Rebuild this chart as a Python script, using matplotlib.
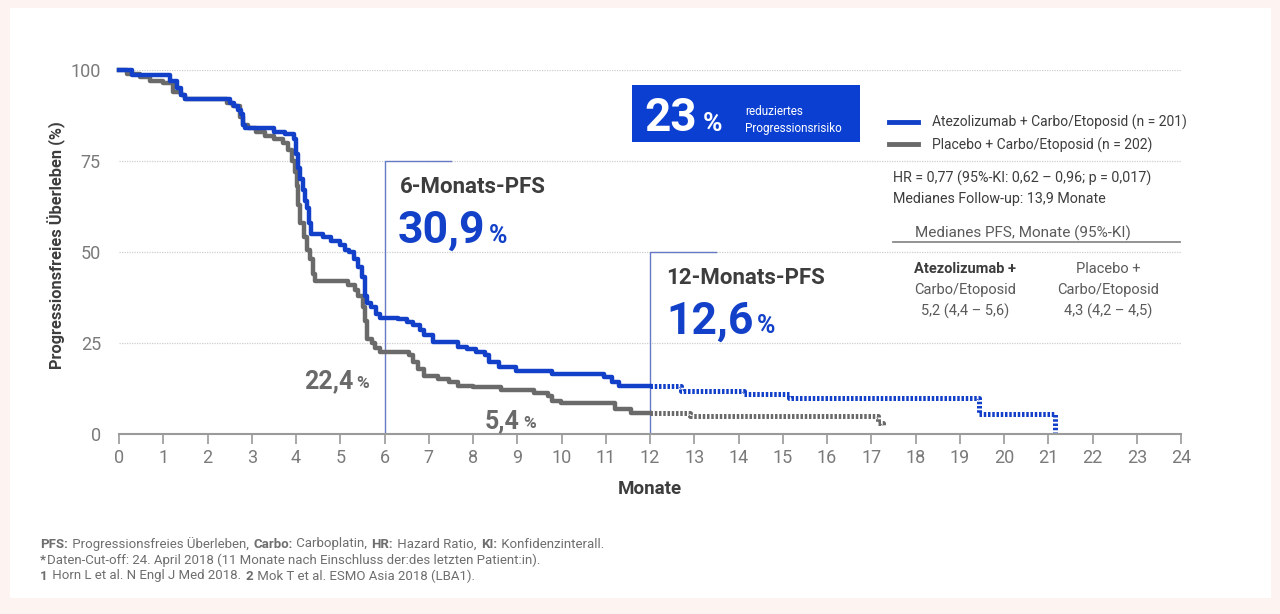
import matplotlib
matplotlib.use("Agg")
import matplotlib.pyplot as plt
from matplotlib.patches import Rectangle
from matplotlib.lines import Line2D

plt.rcParams['font.family'] = ['Roboto', 'DejaVu Sans']

# Kaplan-Meier steps (months, PFS %)
atezo_t = [0, 0.3, 1.15, 1.3, 1.4, 1.5, 2.5, 2.6, 2.7, 2.75, 2.8, 2.85, 3.5, 3.75,
           3.95, 4.0, 4.05, 4.1, 4.15, 4.2, 4.25, 4.3, 4.35, 4.6, 4.8, 5.0, 5.1,
           5.2, 5.3, 5.4, 5.5, 5.55, 5.6, 5.7, 5.8, 5.9, 6.3, 6.5, 6.65, 6.8, 6.9,
           7.1, 7.67, 7.87, 8.07, 8.27, 8.37, 8.58, 8.98, 9.79, 10.95, 11.15,
           11.3, 12.0]
atezo_v = [100, 98.5, 97, 95, 93, 92, 91, 90, 89, 88, 85, 84, 83, 82.5,
           81, 77, 73, 70, 67, 64, 62, 58, 55, 54, 53, 52, 50.5,
           50, 48, 46, 43, 38, 36, 35, 33, 32, 31.5, 30.8, 29.9, 28.5, 27.1,
           25.3, 24, 23.4, 22.5, 21.6, 19.7, 18.5, 17.4, 16.5, 15.6, 14.4,
           13.2, 13.2]
atezo_tail_t = [12.0, 12.7, 14.13, 15.14, 19.43, 21.15]
atezo_tail_v = [13.2, 11.9, 10.9, 10.0, 5.6, 0.5]

plac_t = [0, 0.17, 0.47, 0.7, 1.0, 1.23, 1.4, 1.5, 2.43, 2.58, 2.73, 2.8, 2.92,
          3.1, 3.3, 3.5, 3.7, 3.83, 3.9, 3.98, 4.02, 4.05, 4.09, 4.17, 4.24,
          4.32, 4.39, 4.43, 5.18, 5.33, 5.41, 5.52, 5.56, 5.6, 5.71, 5.79, 5.9,
          6.55, 6.65, 6.76, 6.9, 7.2, 7.46, 7.67, 8.0, 8.63, 9.38, 9.69, 9.79,
          9.99, 11.2, 11.56, 12.0]
plac_v = [100, 99, 98, 97, 96.5, 94, 93, 92, 91, 90, 87, 85, 84,
          83, 82, 81, 80, 78, 75, 72, 68, 63, 58, 54, 50.5,
          48, 44, 42, 41, 39.5, 38, 35, 31, 26, 25, 23.5, 22.5,
          21.6, 19.7, 17.9, 16, 15.1, 14.2, 13.2, 12.8, 12.1, 11.4, 10.5, 9.1,
          8.4, 6.8, 5.8, 5.8]
plac_tail_t = [12.0, 12.9, 17.16, 17.27]
plac_tail_v = [5.8, 4.9, 3.1, 2.1]

landmarks = [6, 12]
landmark_titles = ["6-Monats-PFS", "12-Monats-PFS"]
atezo_landmark = ["30,9", "12,6"]
plac_landmark = ["22,4", "5,4"]

legend_labels = ["Atezolizumab + Carbo/Etoposid (n = 201)",
                 "Placebo + Carbo/Etoposid (n = 202)"]
x_ticks = list(range(0, 25))
y_ticks = [0, 25, 50, 75, 100]

BLUE = "#1240c8"
GRAY = "#6a6a6a"
DARK = "#3d3d3d"
TXT = "#5a5a5a"
LMK = "#6679c4"

fig = plt.figure(figsize=(12.8, 6.14), dpi=100, facecolor="#fdf3f1")
fig.patches.append(Rectangle((10 / 1280, 1 - 598 / 614), 1261 / 1280, 590 / 614,
                             transform=fig.transFigure, facecolor="white",
                             edgecolor="none", zorder=-10))

W, H = 1280, 614
def fx(px):
    return px / W
def fy(py):
    return 1 - py / H

ax = fig.add_axes([fx(119), fy(434), (1181 - 119) / W, (434 - 70) / H])
ax.set_facecolor("none")
ax.set_xlim(0, 24)
ax.set_ylim(0, 100)

# gridlines
for yv in y_ticks[1:]:
    ax.axhline(yv, color="#cfcfcf", lw=0.9, ls=(0, (1, 1)), zorder=0)

# landmark brackets
ax.plot([landmarks[0]] * 2 + [7.5], [0, 75, 75], color=LMK, lw=1.0, zorder=1)
ax.plot([landmarks[1]] * 2 + [13.5], [0, 50, 50], color=LMK, lw=1.0, zorder=1)

# curves
ax.step(plac_t, plac_v, where="post", color=GRAY, lw=3.2, clip_on=False, zorder=3)
ax.step(atezo_t, atezo_v, where="post", color=BLUE, lw=3.2, clip_on=False, zorder=4)
ax.step(plac_tail_t, plac_tail_v, where="post", color=GRAY, lw=3.6,
        ls=(0, (0.5, 0.35)), clip_on=False, zorder=3)
ax.step(atezo_tail_t, atezo_tail_v, where="post", color=BLUE, lw=3.6,
        ls=(0, (0.5, 0.35)), clip_on=False, zorder=4)

# axes styling
for s in ["top", "right", "left"]:
    ax.spines[s].set_visible(False)
ax.spines["bottom"].set_color("#9a9a9a")
ax.spines["bottom"].set_linewidth(1.5)
ax.set_xticks(x_ticks)
ax.set_yticks(y_ticks)
ax.tick_params(axis="x", length=7, width=1.2, color="#9a9a9a", labelsize=13,
               labelcolor="#7a7a7a", pad=4)
ax.tick_params(axis="y", length=0, labelsize=13, labelcolor="#7a7a7a", pad=13)
ax.set_xlabel("Monate", fontsize=13.5, fontweight="bold", color=DARK)
ax.xaxis.set_label_coords(0.5, -0.125)
ax.set_ylabel("Progressionsfreies Überleben (%)", fontsize=11.8,
              fontweight="bold", color=DARK)
ax.yaxis.set_label_coords(-0.05, 0.52)

renderer = fig.canvas.get_renderer()

def number_pct(x, y, num, color, size, pct_size, gap=4):
    t = ax.text(x, y, num, fontsize=size, fontweight="bold", color=color,
                va="baseline", ha="left")
    bb = t.get_window_extent(renderer)
    xd = ax.transData.inverted().transform((bb.x1 + gap, 0))[0]
    ax.text(xd, y, "%", fontsize=pct_size, fontweight="bold", color=color,
            va="baseline", ha="left")

# landmark annotations
ax.text(6.35, 66.2, landmark_titles[0], fontsize=16, fontweight="bold",
        color=DARK, va="baseline")
number_pct(6.3, 52.5, atezo_landmark[0], BLUE, 32, 18)
ax.text(12.36, 41.2, landmark_titles[1], fontsize=16, fontweight="bold",
        color=DARK, va="baseline")
number_pct(12.36, 27.7, atezo_landmark[1], BLUE, 32, 18)
number_pct(4.18, 12.6, plac_landmark[0], GRAY, 18, 12.5, gap=3)
number_pct(8.27, 1.6, plac_landmark[1], GRAY, 18, 12.5, gap=3)

# HR box
ax.add_patch(Rectangle((11.59, 80.2), 5.16, 15.7, facecolor="#0b3fd1",
                       edgecolor="none", clip_on=False, zorder=5))
t23 = ax.text(11.87, 83.3, "23", fontsize=33, fontweight="bold", color="white",
              va="baseline", zorder=6)
bb = t23.get_window_extent(renderer)
ax.text(ax.transData.inverted().transform((bb.x1 + 6, 0))[0], 83.3, "%",
        fontsize=19, fontweight="bold", color="white", va="baseline", zorder=6)
ax.text(14.15, 87.6, "reduziertes", fontsize=8.5, color="white",
        va="baseline", zorder=6)
ax.text(14.15, 83.0, "Progressionsrisiko", fontsize=8.5, color="white",
        va="baseline", zorder=6)

# legend
handles = [Line2D([], [], color=BLUE, lw=3.5), Line2D([], [], color=GRAY, lw=3.5)]
leg = fig.legend(handles, legend_labels, loc="upper left",
                 bbox_to_anchor=(fx(889), fy(115)), frameon=False,
                 fontsize=10, handlelength=2.1, handletextpad=1.0,
                 labelspacing=0.5, borderpad=0, borderaxespad=0)
for txt in leg.get_texts():
    txt.set_color(DARK)

# stats panel
fig.text(fx(893), fy(178), "HR = 0,77 (95%-KI: 0,62 – 0,96; p = 0,017)",
         fontsize=10.3, color=DARK, va="center")
fig.text(fx(893), fy(199), "Medianes Follow-up: 13,9 Monate",
         fontsize=10.3, color=DARK, va="center")
fig.text(fx(1023), fy(233), "Medianes PFS, Monate (95%-KI)",
         fontsize=11, color=TXT, va="center", ha="center")
fig.add_artist(Line2D([fx(893), fx(1180)], [fy(242), fy(242)],
                      transform=fig.transFigure, color="#8a8a8a", lw=1.3))
col_x = [965, 1108]
col_lines = [[("Atezolizumab +", True), ("Carbo/Etoposid", False), ("5,2 (4,4 – 5,6)", False)],
             [("Placebo +", False), ("Carbo/Etoposid", False), ("4,3 (4,2 – 4,5)", False)]]
for cx, lines in zip(col_x, col_lines):
    for yy, (txt, bold) in zip([269, 290, 311], lines):
        fig.text(fx(cx), fy(yy), txt, fontsize=10.5,
                 fontweight="bold" if bold else "normal",
                 color=DARK if bold else TXT, va="center", ha="center")

# footnotes with bold fragments
def rich_line(y, parts, size=9.5, color="#6e6e6e"):
    x_px = 40
    for text, bold in parts:
        t = fig.text(fx(x_px), fy(y), text, fontsize=size, color=color,
                     fontweight="bold" if bold else "normal", va="center")
        x_px = t.get_window_extent(renderer).x1 + 1

rich_line(544, [("PFS:", True), (" Progressionsfreies Überleben, ", False),
                ("Carbo:", True), (" Carboplatin, ", False), ("HR:", True),
                (" Hazard Ratio, ", False), ("KI:", True),
                (" Konfidenzinterall.", False)])
rich_line(560, [("*", True), ("Daten-Cut-off: 24. April 2018 (11 Monate nach "
                              "Einschluss der:des letzten Patient:in).", False)])
rich_line(576, [("1", True), (" Horn L et al. N Engl J Med 2018. ", False),
                ("2", True), (" Mok T et al. ESMO Asia 2018 (LBA1).", False)])

fig.savefig("out.png", dpi=100, facecolor=fig.get_facecolor())
